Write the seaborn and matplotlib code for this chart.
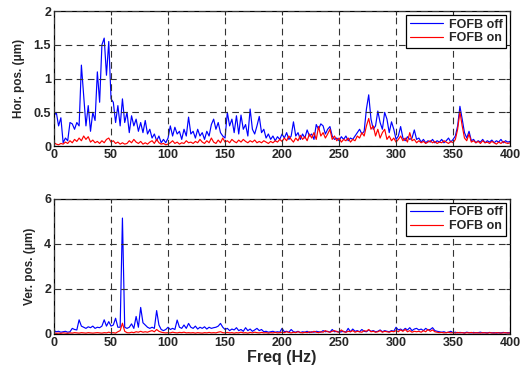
import numpy as np
import pandas as pd
import matplotlib
matplotlib.use("Agg")
import matplotlib.pyplot as plt
import seaborn as sns

# frequency grid of the spectra (Hz)
freq = np.arange(0, 401, 2)

# horizontal position spectrum, FOFB off (um)
hor_off = [
    0.45, 0.50, 0.30, 0.42, 0.05, 0.12, 0.08, 0.35, 0.33, 0.25,
    0.35, 0.30, 1.20, 0.75, 0.30, 0.60, 0.22, 0.50, 0.38, 1.10,
    0.65, 1.50, 1.60, 1.05, 1.55, 0.70, 0.65, 0.35, 0.60, 0.30,
    0.70, 0.35, 0.50, 0.20, 0.45, 0.30, 0.40, 0.22, 0.35, 0.20,
    0.38, 0.18, 0.25, 0.12, 0.18, 0.08, 0.15, 0.05, 0.10, 0.05,
    0.12, 0.30, 0.15, 0.28, 0.18, 0.22, 0.10, 0.25, 0.15, 0.43,
    0.18, 0.22, 0.12, 0.25, 0.15, 0.20, 0.10, 0.22, 0.15, 0.32,
    0.40, 0.25, 0.35, 0.20, 0.15, 0.12, 0.50, 0.30, 0.40, 0.20,
    0.45, 0.18, 0.46, 0.25, 0.32, 0.15, 0.55, 0.25, 0.18, 0.30,
    0.44, 0.20, 0.25, 0.12, 0.18, 0.10, 0.15, 0.08, 0.14, 0.10,
    0.18, 0.12, 0.20, 0.10, 0.15, 0.36, 0.15, 0.20, 0.10, 0.18,
    0.12, 0.24, 0.15, 0.18, 0.10, 0.32, 0.25, 0.33, 0.30, 0.18,
    0.25, 0.29, 0.15, 0.10, 0.12, 0.08, 0.14, 0.10, 0.15, 0.08,
    0.12, 0.10, 0.15, 0.20, 0.25, 0.18, 0.22, 0.55, 0.76, 0.40,
    0.25, 0.30, 0.52, 0.35, 0.25, 0.50, 0.40, 0.20, 0.36, 0.25,
    0.10, 0.15, 0.29, 0.12, 0.08, 0.14, 0.10, 0.12, 0.24, 0.10,
    0.12, 0.06, 0.10, 0.05, 0.08, 0.06, 0.10, 0.05, 0.08, 0.06,
    0.10, 0.05, 0.08, 0.12, 0.06, 0.10, 0.15, 0.30, 0.59, 0.40,
    0.20, 0.12, 0.22, 0.08, 0.10, 0.05, 0.08, 0.06, 0.10, 0.05,
    0.08, 0.06, 0.09, 0.05, 0.08, 0.06, 0.10, 0.05, 0.08, 0.06,
    0.07,
]

# horizontal position spectrum, FOFB on (um)
hor_on = [
    0.05, 0.03, 0.02, 0.04, 0.03, 0.06, 0.04, 0.08, 0.05, 0.10,
    0.07, 0.12, 0.08, 0.15, 0.10, 0.14, 0.06, 0.09, 0.05, 0.07,
    0.04, 0.08, 0.05, 0.10, 0.12, 0.06, 0.08, 0.04, 0.06, 0.03,
    0.05, 0.03, 0.04, 0.08, 0.05, 0.10, 0.06, 0.04, 0.07, 0.03,
    0.05, 0.03, 0.06, 0.08, 0.04, 0.10, 0.05, 0.03, 0.04, 0.02,
    0.03, 0.05, 0.08, 0.04, 0.06, 0.03, 0.05, 0.04, 0.08, 0.05,
    0.06, 0.04, 0.07, 0.05, 0.10, 0.06, 0.04, 0.08, 0.05, 0.12,
    0.06, 0.04, 0.09, 0.05, 0.12, 0.06, 0.08, 0.05, 0.10, 0.07,
    0.05, 0.09, 0.06, 0.10, 0.07, 0.05, 0.08, 0.06, 0.09, 0.05,
    0.07, 0.05, 0.08, 0.06, 0.04, 0.07, 0.05, 0.08, 0.06, 0.10,
    0.07, 0.12, 0.08, 0.15, 0.10, 0.06, 0.12, 0.08, 0.16, 0.10,
    0.14, 0.08, 0.18, 0.12, 0.20, 0.10, 0.29, 0.15, 0.20, 0.12,
    0.18, 0.25, 0.10, 0.15, 0.08, 0.12, 0.06, 0.10, 0.08, 0.12,
    0.06, 0.10, 0.08, 0.15, 0.12, 0.20, 0.15, 0.30, 0.41, 0.25,
    0.30, 0.15, 0.25, 0.12, 0.20, 0.25, 0.10, 0.15, 0.08, 0.12,
    0.06, 0.10, 0.15, 0.08, 0.12, 0.06, 0.20, 0.08, 0.10, 0.05,
    0.08, 0.05, 0.07, 0.04, 0.06, 0.08, 0.05, 0.07, 0.04, 0.06,
    0.05, 0.08, 0.06, 0.04, 0.07, 0.05, 0.10, 0.25, 0.51, 0.30,
    0.12, 0.08, 0.18, 0.06, 0.08, 0.05, 0.07, 0.04, 0.08, 0.05,
    0.06, 0.04, 0.07, 0.05, 0.03, 0.06, 0.04, 0.07, 0.05, 0.04,
    0.05,
]

# vertical position spectrum, FOFB off (um)
ver_off = [
    0.15, 0.10, 0.12, 0.08, 0.10, 0.12, 0.08, 0.10, 0.25, 0.20,
    0.18, 0.63, 0.35, 0.30, 0.25, 0.32, 0.28, 0.35, 0.25, 0.30,
    0.28, 0.35, 0.63, 0.35, 0.55, 0.35, 0.40, 0.70, 0.30, 0.30,
    5.15, 0.30, 0.25, 0.30, 0.45, 0.25, 0.78, 0.30, 1.18, 0.50,
    0.40, 0.30, 0.25, 0.30, 0.25, 1.04, 0.40, 0.20, 0.15, 0.20,
    0.30, 0.20, 0.25, 0.20, 0.62, 0.30, 0.25, 0.40, 0.25, 0.47,
    0.30, 0.25, 0.35, 0.22, 0.30, 0.25, 0.32, 0.22, 0.30, 0.25,
    0.28, 0.30, 0.35, 0.47, 0.30, 0.20, 0.25, 0.15, 0.22, 0.18,
    0.28, 0.15, 0.20, 0.12, 0.28, 0.15, 0.22, 0.12, 0.18, 0.25,
    0.15, 0.20, 0.10, 0.12, 0.08, 0.10, 0.12, 0.08, 0.10, 0.08,
    0.25, 0.10, 0.12, 0.08, 0.20, 0.10, 0.08, 0.12, 0.06, 0.10,
    0.08, 0.12, 0.06, 0.10, 0.08, 0.12, 0.10, 0.08, 0.15, 0.10,
    0.12, 0.08, 0.20, 0.10, 0.12, 0.08, 0.10, 0.12, 0.08, 0.25,
    0.10, 0.22, 0.12, 0.15, 0.10, 0.20, 0.12, 0.10, 0.18, 0.12,
    0.15, 0.10, 0.12, 0.18, 0.10, 0.15, 0.12, 0.10, 0.15, 0.12,
    0.30, 0.18, 0.22, 0.15, 0.25, 0.18, 0.28, 0.15, 0.22, 0.25,
    0.18, 0.22, 0.15, 0.25, 0.18, 0.20, 0.28, 0.15, 0.12, 0.10,
    0.08, 0.10, 0.06, 0.08, 0.12, 0.06, 0.08, 0.05, 0.07, 0.06,
    0.05, 0.08, 0.06, 0.05, 0.07, 0.05, 0.06, 0.08, 0.05, 0.06,
    0.05, 0.07, 0.05, 0.06, 0.04, 0.06, 0.05, 0.07, 0.05, 0.06,
    0.05,
]

# vertical position spectrum, FOFB on (um)
ver_on = [
    0.05, 0.03, 0.04, 0.03, 0.05, 0.04, 0.03, 0.05, 0.04, 0.06,
    0.05, 0.04, 0.06, 0.05, 0.04, 0.06, 0.05, 0.04, 0.05, 0.06,
    0.05, 0.04, 0.06, 0.05, 0.08, 0.05, 0.06, 0.04, 0.10, 0.15,
    0.48, 0.12, 0.06, 0.05, 0.08, 0.06, 0.10, 0.08, 0.12, 0.08,
    0.10, 0.08, 0.12, 0.15, 0.10, 0.20, 0.12, 0.08, 0.06, 0.05,
    0.06, 0.05, 0.08, 0.06, 0.05, 0.07, 0.06, 0.08, 0.05, 0.06,
    0.05, 0.06, 0.04, 0.06, 0.05, 0.04, 0.06, 0.05, 0.07, 0.05,
    0.06, 0.05, 0.08, 0.10, 0.06, 0.05, 0.07, 0.05, 0.06, 0.04,
    0.06, 0.05, 0.08, 0.05, 0.06, 0.04, 0.07, 0.05, 0.08, 0.06,
    0.05, 0.07, 0.05, 0.06, 0.04, 0.06, 0.05, 0.07, 0.05, 0.06,
    0.08, 0.06, 0.10, 0.07, 0.05, 0.08, 0.06, 0.10, 0.07, 0.05,
    0.08, 0.06, 0.10, 0.07, 0.12, 0.08, 0.06, 0.10, 0.08, 0.15,
    0.10, 0.08, 0.12, 0.15, 0.10, 0.08, 0.18, 0.10, 0.08, 0.12,
    0.10, 0.15, 0.08, 0.12, 0.10, 0.08, 0.15, 0.12, 0.20, 0.10,
    0.12, 0.08, 0.10, 0.15, 0.08, 0.12, 0.10, 0.08, 0.12, 0.10,
    0.15, 0.10, 0.18, 0.12, 0.20, 0.10, 0.15, 0.08, 0.12, 0.10,
    0.12, 0.08, 0.15, 0.10, 0.20, 0.12, 0.18, 0.10, 0.08, 0.06,
    0.07, 0.05, 0.06, 0.08, 0.05, 0.06, 0.04, 0.07, 0.05, 0.06,
    0.04, 0.06, 0.05, 0.07, 0.04, 0.06, 0.05, 0.04, 0.06, 0.05,
    0.04, 0.06, 0.05, 0.04, 0.06, 0.05, 0.04, 0.05, 0.06, 0.04,
    0.05,
]

series_names = ["FOFB off", "FOFB on"]
x_ticks = [0, 50, 100, 150, 200, 250, 300, 350, 400]
hor_ticks = [0, 0.5, 1, 1.5, 2]
hor_tick_labels = ["0", "0.5", "1", "1.5", "2"]
ver_ticks = [0, 2, 4, 6]

sns.set_style("white")
plt.rcParams["font.family"] = ["Liberation Sans", "DejaVu Sans"]
plt.rcParams["font.weight"] = "bold"

palette = {"FOFB off": "#0000ff", "FOFB on": "#ff0000"}


def long_form(off_vals, on_vals):
    return pd.concat([
        pd.DataFrame({"freq": freq, "val": off_vals, "series": series_names[0]}),
        pd.DataFrame({"freq": freq, "val": on_vals, "series": series_names[1]}),
    ])


def style_axes(ax, yticks, ylim, ylabel):
    ax.set_xlim(0, 400)
    ax.set_ylim(*ylim)
    ax.set_xticks(x_ticks)
    ax.set_yticks(yticks)
    ax.grid(True, color="0.2", linestyle=(0, (6, 4)), linewidth=0.8)
    ax.set_axisbelow(False)
    for sp in ax.spines.values():
        sp.set_color("black")
        sp.set_linewidth(0.9)
    ax.tick_params(direction="in", length=3, width=0.8, top=True, right=True,
                   labelsize=9, pad=2)
    for lab in ax.get_xticklabels() + ax.get_yticklabels():
        lab.set_fontweight("bold")
    ax.set_ylabel(ylabel, fontsize=8.5, fontweight="bold", labelpad=6)
    leg = ax.legend(loc="upper right", fancybox=False, edgecolor="black",
                    framealpha=1, borderaxespad=0.3, handlelength=2.6,
                    prop={"size": 9, "weight": "bold"}, labelspacing=0.15,
                    borderpad=0.3, handletextpad=0.5)
    leg.get_frame().set_linewidth(0.9)


fig = plt.figure(figsize=(5.23, 3.70), dpi=100)
ax_h = fig.add_axes([0.1033, 0.605, 0.872, 0.365])
ax_v = fig.add_axes([0.1033, 0.0973, 0.872, 0.365])

# top panel: horizontal position spectrum
sns.lineplot(data=long_form(hor_off, hor_on), x="freq", y="val", hue="series",
             palette=palette, errorbar=None, linewidth=0.85, ax=ax_h)
style_axes(ax_h, hor_ticks, (0, 2), "Hor. pos. (\u03bcm)")
ax_h.set_yticklabels(hor_tick_labels, fontweight="bold")
ax_h.set_xlabel("")

# bottom panel: vertical position spectrum
sns.lineplot(data=long_form(ver_off, ver_on), x="freq", y="val", hue="series",
             palette=palette, errorbar=None, linewidth=0.85, ax=ax_v)
style_axes(ax_v, ver_ticks, (0, 6), "Ver. pos. (\u03bcm)")
ax_v.set_xlabel("Freq (Hz)", fontsize=11.5, fontweight="bold", labelpad=1)

fig.savefig("out.png", dpi=100)
plt.close(fig)
